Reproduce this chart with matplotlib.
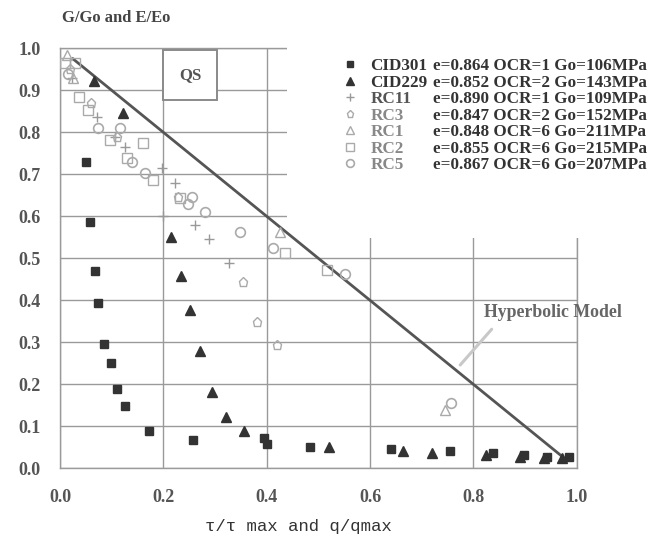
import matplotlib
matplotlib.use("Agg")
import matplotlib.pyplot as plt
from matplotlib.lines import Line2D
from matplotlib.patches import Rectangle

# ---------------- data ----------------
cid301_x = [0.050, 0.058, 0.068, 0.074, 0.086, 0.098, 0.110, 0.125, 0.173, 0.258, 0.394, 0.400,
            0.484, 0.640, 0.755, 0.838, 0.898, 0.943, 0.985]
cid301_y = [0.730, 0.586, 0.470, 0.393, 0.295, 0.250, 0.190, 0.148, 0.089, 0.067, 0.071, 0.057,
            0.051, 0.046, 0.041, 0.036, 0.032, 0.028, 0.027]

cid229_x = [0.066, 0.121, 0.214, 0.234, 0.252, 0.270, 0.294, 0.322, 0.357, 0.521, 0.663, 0.720,
            0.824, 0.891, 0.936, 0.972]
cid229_y = [0.923, 0.845, 0.551, 0.458, 0.377, 0.280, 0.182, 0.123, 0.089, 0.051, 0.041, 0.036,
            0.032, 0.028, 0.025, 0.025]

rc11_x = [0.023, 0.071, 0.107, 0.126, 0.197, 0.200, 0.223, 0.262, 0.288, 0.328]
rc11_y = [0.930, 0.837, 0.789, 0.765, 0.715, 0.600, 0.680, 0.580, 0.545, 0.488]

rc3_x = [0.020, 0.060, 0.110, 0.229, 0.355, 0.381, 0.420]
rc3_y = [0.950, 0.870, 0.790, 0.647, 0.444, 0.349, 0.294]

rc1_x = [0.013, 0.025, 0.426, 0.746]
rc1_y = [0.985, 0.930, 0.563, 0.139]

rc2_x = [0.010, 0.029, 0.037, 0.054, 0.097, 0.130, 0.161, 0.180, 0.233, 0.436, 0.517]
rc2_y = [0.965, 0.966, 0.885, 0.853, 0.782, 0.739, 0.775, 0.686, 0.643, 0.513, 0.472]

rc5_x = [0.016, 0.074, 0.116, 0.140, 0.165, 0.248, 0.256, 0.281, 0.349, 0.413, 0.552, 0.756]
rc5_y = [0.940, 0.810, 0.810, 0.730, 0.703, 0.630, 0.646, 0.610, 0.562, 0.524, 0.463, 0.155]

model_x = [0.025, 0.972]
model_y = [0.975, 0.028]

series_names = ["CID301", "CID229", "RC11", "RC3", "RC1", "RC2", "RC5"]
series_props = ["e=0.864 OCR=1 Go=106MPa", "e=0.852 OCR=2 Go=143MPa",
                "e=0.890 OCR=1 Go=109MPa", "e=0.847 OCR=2 Go=152MPa",
                "e=0.848 OCR=6 Go=211MPa", "e=0.855 OCR=6 Go=215MPa",
                "e=0.867 OCR=6 Go=207MPa"]

xticks = [0.0, 0.2, 0.4, 0.6, 0.8, 1.0]
yticks = [0.0, 0.1, 0.2, 0.3, 0.4, 0.5, 0.6, 0.7, 0.8, 0.9, 1.0]

# ---------------- style ----------------
serif = ["Liberation Serif", "DejaVu Serif"]
dark = "#333333"
light = "#aaaaaa"
gridc = "#9a9a9a"

fig = plt.figure(figsize=(6.53, 5.43), dpi=100)
fig.patch.set_facecolor("white")
ax = fig.add_axes([60 / 653, 74.7 / 543, 516.7 / 653, 420 / 543])
ax.set_xlim(0, 1.0)
ax.set_ylim(0, 1.0)

ax.set_xticks(xticks)
ax.set_yticks(yticks)
ax.set_xticklabels([f"{v:.1f}" for v in xticks], family=serif, weight="bold",
                   fontsize=13, color="#555555")
ax.set_yticklabels([f"{v:.1f}" for v in yticks], family=serif, weight="bold",
                   fontsize=13, color="#555555")
ax.tick_params(length=0)
ax.tick_params(axis="x", pad=15)
ax.tick_params(axis="y", pad=14)
ax.grid(True, color=gridc, linewidth=1.0)
ax.set_axisbelow(True)
for s in ax.spines.values():
    s.set_color(gridc)
    s.set_linewidth(1.0)

# white patch hiding upper-right grid (legend area)
ax.add_patch(Rectangle((0.44, 0.548), 0.8, 0.6, facecolor="white", edgecolor="none",
                       zorder=2.6, clip_on=False))

# QS box
ax.add_patch(Rectangle((0.2, 0.877), 0.104, 0.119, facecolor="white", edgecolor="#8a8a8a",
                       linewidth=1.4, zorder=2.7))
ax.text(0.252, 0.937, "QS", family=serif, weight="bold", fontsize=12, color="#555555",
        ha="center", va="center", zorder=2.8)

# hyperbolic model line
ax.plot(model_x, model_y, color="#555555", linewidth=2.0, zorder=3)

# data series
h_cid301, = ax.plot(cid301_x, cid301_y, ls="none", marker="s", ms=6, mfc=dark, mec=dark, zorder=4)
h_cid229, = ax.plot(cid229_x, cid229_y, ls="none", marker="^", ms=6.5, mfc=dark, mec=dark, zorder=4)
h_rc11, = ax.plot(rc11_x, rc11_y, ls="none", marker="+", ms=7, mew=1.0, color="#999999", zorder=4)
h_rc3, = ax.plot(rc3_x, rc3_y, ls="none", marker="p", ms=6.5, mfc="none", mec=light, mew=1.0, zorder=4)
h_rc1, = ax.plot(rc1_x, rc1_y, ls="none", marker="^", ms=7, mfc="none", mec=light, mew=1.0, zorder=4)
h_rc2, = ax.plot(rc2_x, rc2_y, ls="none", marker="s", ms=7, mfc="none", mec=light, mew=1.0, zorder=4)
h_rc5, = ax.plot(rc5_x, rc5_y, ls="none", marker="o", ms=7, mfc="none", mec=light, mew=1.2, zorder=4)

handles = [h_cid301, h_cid229, h_rc11, h_rc3, h_rc1, h_rc2, h_rc5]

leg_font = dict(family=serif, weight="bold", size=12.3)
leg_top = 1 - 58 / 543
leg1 = ax.legend(handles, series_names, loc="upper left", bbox_to_anchor=(343 / 653, leg_top),
                 bbox_transform=fig.transFigure, frameon=False, handlelength=0.8,
                 handletextpad=0.8, labelspacing=0.03, borderpad=0, borderaxespad=0,
                 prop=leg_font, markerscale=0.8)
name_colors = [dark, dark, "#555555", "#888888", "#888888", "#888888", "#888888"]
for t, c in zip(leg1.get_texts(), name_colors):
    t.set_color(c)
leg1.set_zorder(6)
ax.add_artist(leg1)

blank = [Line2D([], [], ls="none") for _ in series_props]
leg2 = ax.legend(blank, series_props, loc="upper left", bbox_to_anchor=(433 / 653, leg_top),
                 bbox_transform=fig.transFigure, frameon=False, handlelength=0,
                 handletextpad=0, labelspacing=0.03, borderpad=0, borderaxespad=0,
                 prop=leg_font)
for t in leg2.get_texts():
    t.set_color(dark)
leg2.set_zorder(6)

# Hyperbolic model label + arrow
ax.annotate("", xy=(0.771, 0.241), xytext=(0.839, 0.336),
            arrowprops=dict(arrowstyle="-", color="#c8c8c8", linewidth=2.2), zorder=3)
ax.text(0.82, 0.372, "Hyperbolic Model", family=serif, weight="bold", fontsize=12.8,
        color="#666666", ha="left", va="center", zorder=5)

# titles
fig.text(62 / 653, 1 - 18 / 543, "G/Go and E/Eo", family=serif, weight="bold", fontsize=12,
         color="#444444", ha="left", va="center")
fig.text(298 / 653, 1 - 527 / 543, "τ/τ max and q/qmax", family=["Liberation Mono", "DejaVu Sans Mono"],
         fontsize=12.5, color="#333333", ha="center", va="center")

fig.savefig("out.png", dpi=100, facecolor="white")
